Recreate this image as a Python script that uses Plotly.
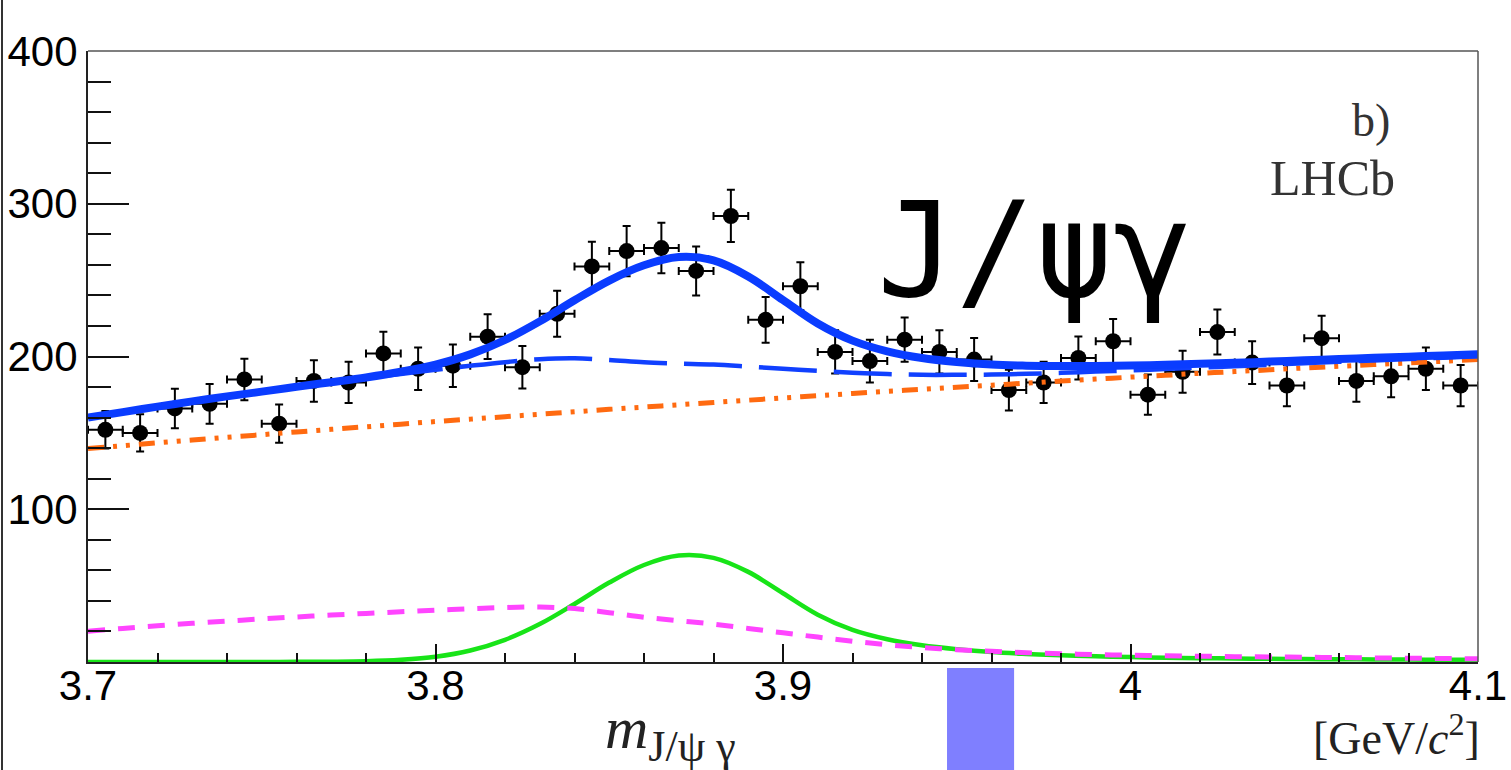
import plotly.graph_objects as go

# ---- binned data: J/psi gamma invariant mass ----
bin_centers = [3.705, 3.715, 3.725, 3.735, 3.745, 3.755, 3.765, 3.775, 3.785, 3.795,
               3.805, 3.815, 3.825, 3.835, 3.845, 3.855, 3.865, 3.875, 3.885, 3.895,
               3.905, 3.915, 3.925, 3.935, 3.945, 3.955, 3.965, 3.975, 3.985, 3.995,
               4.005, 4.015, 4.025, 4.035, 4.045, 4.055, 4.065, 4.075, 4.085, 4.095]
counts = [152, 150, 166, 169, 185, 156, 184, 183, 202, 192,
          194, 213, 193, 228, 259, 269, 271, 256, 292, 224,
          246, 203, 197, 211, 203, 198, 178, 183, 199, 210,
          175, 190, 216, 196, 181, 212, 184, 187, 192, 181]
count_err = [12.3, 12.2, 12.9, 13.0, 13.6, 12.5, 13.6, 13.5, 14.2, 13.9,
             13.9, 14.6, 13.9, 15.1, 16.1, 16.4, 16.5, 16.0, 17.1, 15.0,
             15.7, 14.2, 14.0, 14.5, 14.2, 14.1, 13.3, 13.5, 14.1, 14.5,
             13.2, 13.8, 14.7, 14.0, 13.5, 14.6, 13.6, 13.7, 13.9, 13.5]
half_bin = [0.005] * len(bin_centers)

# ---- fit components sampled along the mass axis ----
curve_mass = [3.70, 3.71, 3.72, 3.73, 3.74, 3.75, 3.76, 3.77, 3.78, 3.79,
              3.80, 3.81, 3.82, 3.83, 3.84, 3.85, 3.86, 3.87, 3.88, 3.89,
              3.90, 3.91, 3.92, 3.93, 3.94, 3.95, 3.96, 3.97, 3.98, 3.99,
              4.00, 4.01, 4.02, 4.03, 4.04, 4.05, 4.06, 4.07, 4.08, 4.09, 4.10]
signal_curve = [0.0, 0.0, 0.0, 0.0, 0.0, 0.0, 0.1, 0.2, 0.5, 1.4,
                3.4, 7.5, 14.5, 24.8, 38.0, 52.0, 63.5, 69.7, 68.2, 59.0,
                45.0, 31.0, 21.0, 14.9, 11.0, 8.4, 6.5, 5.3, 4.4, 3.7,
                3.2, 2.8, 2.5, 2.3, 2.1, 1.9, 1.8, 1.7, 1.6, 1.5, 1.4]
reflection_curve = [20.2, 22.0, 23.7, 25.3, 26.8, 28.2, 29.5, 30.7, 31.8, 32.9,
                    33.9, 34.9, 35.7, 36.0, 35.0, 32.3, 29.3, 27.0, 24.8, 22.0,
                    19.1, 16.3, 13.6, 11.3, 9.5, 8.1, 7.0, 6.1, 5.4, 4.9,
                    4.4, 4.1, 3.8, 3.5, 3.3, 3.1, 2.9, 2.7, 2.5, 2.3, 2.1]
combinatorial_curve = [139.8, 141.6, 143.5, 145.3, 147.1, 148.8, 150.6, 152.3, 154.0, 155.7,
                       157.4, 159.0, 160.6, 162.2, 163.8, 165.4, 166.9, 168.4, 169.9, 171.4,
                       172.9, 174.3, 175.8, 177.2, 178.5, 179.9, 181.2, 182.6, 183.9, 185.2,
                       186.5, 187.7, 189.0, 190.1, 191.3, 192.5, 193.6, 194.7, 195.8, 196.9, 198.0]

background_sum = [c + r for c, r in zip(combinatorial_curve, reflection_curve)]
total_fit = [b + s for b, s in zip(background_sum, signal_curve)]

x_tick_vals = [3.7, 3.8, 3.9, 4.0, 4.1]
x_tick_text = ["3.7", "3.8", "3.9", "4", "4.1"]
y_tick_vals = [100, 200, 300, 400]
y_tick_text = ["100", "200", "300", "400"]

# ---- page geometry (pixels) ----
W, H = 1511, 770
ML, MR, MT, MB = 88, 33, 51, 108
PW, PH = W - ML - MR, H - MT - MB


def px_x(p):
    return (p - ML) / PW


def px_y(p):
    return (H - MB - p) / PH


fig = go.Figure()

fig.add_trace(go.Scatter(
    x=bin_centers, y=counts, mode="markers",
    marker=dict(color="black", size=16),
    error_y=dict(type="data", array=count_err, color="black", thickness=2, width=4),
    error_x=dict(type="data", array=half_bin, color="black", thickness=2, width=4),
    showlegend=False, name="data"))

fig.add_trace(go.Scatter(
    x=curve_mass, y=signal_curve, mode="lines",
    line=dict(color="#18e418", width=4.5, shape="spline"),
    showlegend=False, name="signal"))

fig.add_trace(go.Scatter(
    x=curve_mass, y=reflection_curve, mode="lines",
    line=dict(color="#ff45ff", width=5, shape="spline", dash="17px,13px"),
    showlegend=False, name="reflection"))

fig.add_trace(go.Scatter(
    x=curve_mass, y=combinatorial_curve, mode="lines",
    line=dict(color="#ff6a10", width=5, shape="spline",
              dash="16px,9px,4px,9px,4px,9px"),
    showlegend=False, name="combinatorial"))

fig.add_trace(go.Scatter(
    x=curve_mass, y=background_sum, mode="lines",
    line=dict(color="#1040ff", width=4.5, shape="spline", dash="58px,17px"),
    showlegend=False, name="background"))

fig.add_trace(go.Scatter(
    x=curve_mass, y=total_fit, mode="lines",
    line=dict(color="#0a3cff", width=8, shape="spline"),
    showlegend=False, name="total"))

axis_font = dict(family="Liberation Sans, Arial, sans-serif", size=42, color="black")
serif = "Liberation Serif, Times New Roman, serif"

fig.update_layout(
    width=W, height=H,
    margin=dict(l=ML, r=MR, t=MT, b=MB, pad=0),
    paper_bgcolor="white", plot_bgcolor="white",
    xaxis=dict(
        range=[3.7, 4.1], tickmode="array", tickvals=x_tick_vals, ticktext=x_tick_text,
        ticks="inside", ticklen=18, tickwidth=2, tickcolor="#111",
        minor=dict(tick0=3.7, dtick=0.02, ticks="inside", ticklen=9,
                   tickwidth=1.5, tickcolor="#111"),
        showline=True, mirror=False, linecolor="#222", linewidth=2,
        showgrid=False, zeroline=False, tickfont=axis_font, ticklabelstandoff=-14,
        automargin=False),
    yaxis=dict(
        range=[0, 400], tickmode="array", tickvals=y_tick_vals, ticktext=y_tick_text,
        ticks="inside", ticklen=41, tickwidth=2, tickcolor="#111",
        minor=dict(tick0=0, dtick=20, ticks="inside", ticklen=23,
                   tickwidth=1.5, tickcolor="#111"),
        showline=True, mirror=False, linecolor="#222", linewidth=2,
        showgrid=False, zeroline=False, tickfont=axis_font, ticklabelstandoff=0,
        automargin=False),
    font=axis_font,
)

# lighter top and right edges of the frame
fig.add_shape(type="line", xref="paper", yref="paper", x0=0, x1=1, y0=1, y1=1,
              line=dict(color="#555", width=1.5))
fig.add_shape(type="line", xref="paper", yref="paper", x0=1, x1=1, y0=0, y1=1,
              line=dict(color="#555", width=1.5))

fig.add_annotation(
    x=px_x(1392), y=px_y(120), xref="paper", yref="paper",
    text="b)", showarrow=False, xanchor="right", yanchor="middle",
    font=dict(family=serif, size=46, color="#333"))
fig.add_annotation(
    x=px_x(1397), y=px_y(178), xref="paper", yref="paper",
    text="LHCb", showarrow=False, xanchor="right", yanchor="middle",
    font=dict(family=serif, size=50, color="#333"))
fig.add_annotation(
    x=px_x(1034), y=px_y(250), xref="paper", yref="paper",
    text="J/ψγ", showarrow=False, xanchor="center", yanchor="middle",
    font=dict(family="DejaVu Sans Mono, monospace", size=131, color="black"))
fig.add_annotation(
    x=px_x(603), y=px_y(733), xref="paper", yref="paper",
    text="<i>m</i><sub><span style='font-size:44px'>J/ψ γ</span></sub>",
    showarrow=False, xanchor="left", yanchor="middle",
    font=dict(family=serif, size=60, color="#222"))
fig.add_annotation(
    x=px_x(1482), y=px_y(735), xref="paper", yref="paper",
    text="[GeV/<i>c</i><sup>2</sup>]", showarrow=False, xanchor="right", yanchor="middle",
    font=dict(family=serif, size=46, color="#222"))

# highlight block below the axis
fig.add_shape(type="rect", xref="x", yref="paper",
              x0=3.9472, x1=3.9665, y0=px_y(668), y1=px_y(775),
              fillcolor="#7f7fff", line=dict(width=0), layer="above")
# neighbouring frame edge at the far left
fig.add_shape(type="line", xref="paper", yref="paper",
              x0=px_x(2), x1=px_x(2), y0=px_y(775), y1=px_y(-5),
              line=dict(color="#333", width=2))

fig.write_html("out.html")
